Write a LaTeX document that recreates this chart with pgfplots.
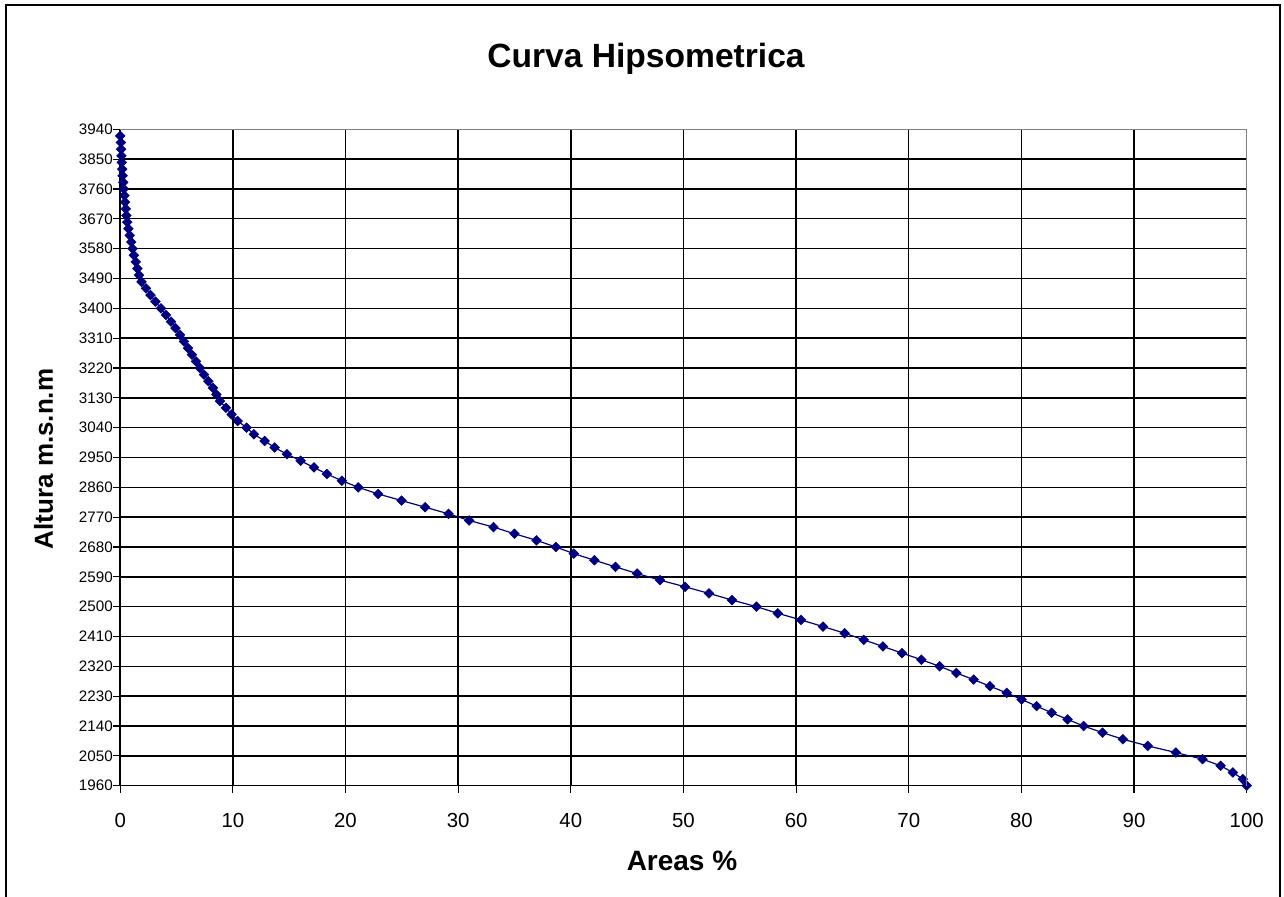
\documentclass[border=0pt]{standalone}
\usepackage{fontspec}
\setmainfont{Liberation Sans}
\usepackage{pgfplots}
\pgfplotsset{compat=1.18}
\definecolor{navy}{RGB}{0,0,128}
\pgfplotstableread{
x y
0 3920
0.06 3900
0.08 3880
0.11 3860
0.14 3840
0.18 3820
0.22 3800
0.27 3780
0.32 3760
0.37 3740
0.43 3720
0.49 3700
0.55 3680
0.63 3660
0.72 3640
0.84 3620
0.98 3600
1.09 3580
1.22 3560
1.38 3540
1.52 3520
1.67 3500
1.89 3480
2.29 3460
2.69 3440
3.13 3420
3.62 3400
4.06 3380
4.51 3360
4.91 3340
5.31 3320
5.66 3300
6.02 3280
6.37 3260
6.73 3240
7.08 3220
7.44 3200
7.83 3180
8.23 3160
8.54 3140
8.86 3120
9.39 3100
9.89 3080
10.43 3060
11.22 3040
11.87 3020
12.82 3000
13.71 2980
14.80 2960
16.02 2940
17.20 2920
18.35 2900
19.68 2880
21.13 2860
22.90 2840
24.98 2820
27.07 2800
29.15 2780
30.98 2760
33.14 2740
35.00 2720
36.96 2700
38.67 2680
40.27 2660
42.10 2640
43.97 2620
45.88 2600
47.92 2580
50.14 2560
52.27 2540
54.31 2520
56.48 2500
58.37 2480
60.44 2460
62.39 2440
64.31 2420
66.00 2400
67.71 2380
69.40 2360
71.12 2340
72.74 2320
74.22 2300
75.76 2280
77.21 2260
78.69 2240
80.02 2220
81.35 2200
82.68 2180
84.10 2160
85.52 2140
87.20 2120
89.01 2100
91.22 2080
93.71 2060
96.08 2040
97.68 2020
98.77 2000
99.65 1980
100 1960
}\hypso
\begin{document}
\begin{tikzpicture}
\useasboundingbox (-60.1pt,-55.65pt) rectangle (581.9pt,392.85pt);
\draw[line width=1pt] (-57.1pt,-57pt) -- (-57.1pt,390.3pt) -- (579.9pt,390.3pt) -- (579.9pt,-57pt);
\begin{axis}[
  at={(0,0)}, anchor=south west,
  scale only axis, width=563.25pt, height=328.2pt,
  xmin=0, xmax=100, ymin=1960, ymax=3940,
  xtick={0,10,20,30,40,50,60,70,80,90,100},
  ytick={1960,2050,2140,2230,2320,2410,2500,2590,2680,2770,2860,2950,3040,3130,3220,3310,3400,3490,3580,3670,3760,3850,3940},
  minor xtick={10,20,30,40,50,60,70,80,90},
  minor ytick={2050,2140,2230,2320,2410,2500,2590,2680,2770,2860,2950,3040,3130,3220,3310,3400,3490,3580,3670,3760,3850},
  grid=minor,
  minor grid style={black, line width=0.7pt},
  minor tick length=0pt,
  axis x line*=bottom, axis y line*=left,
  axis line style={black, line width=0.7pt},
  tick align=outside, major tick length=3.5pt,
  tick style={black, line width=0.6pt},
  x tick label style={font=\fontsize{10.2}{12}\selectfont, yshift=-6.5pt},
  y tick label style={font=\fontsize{7.6}{9}\selectfont, xshift=3.3pt},
  /pgf/number format/assume math mode=true,
  /pgf/number format/1000 sep={},
  after end axis/.code={\draw[gray, line width=0.7pt] (rel axis cs:0,1) -- (rel axis cs:1,1) -- (rel axis cs:1,0);},
]
\addplot[navy, line width=0.6pt, mark=square*, mark size=1.7pt,
  mark options={rotate=45, fill=navy, draw=navy, line width=0.3pt}] table[x=x,y=y] {\hypso};
\end{axis}
\node[font=\bfseries\fontsize{16.8}{20}\selectfont, anchor=base] at (262.9pt,358.85pt) {Curva Hipsometrica};
\node[font=\bfseries\fontsize{14}{17}\selectfont, anchor=base] at (280.9pt,-42.5pt) {Areas \%};
\node[font=\bfseries\fontsize{13}{16}\selectfont, rotate=90, anchor=base] at (-33.6pt,163.35pt) {Altura m.s.n.m};
\end{tikzpicture}
\end{document}
